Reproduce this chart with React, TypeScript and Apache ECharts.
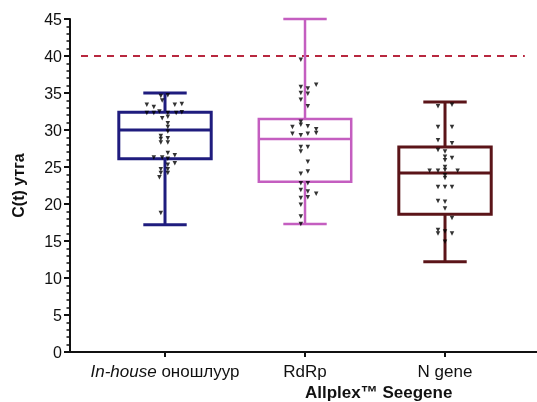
import React, { useEffect, useRef } from "react";
import * as echarts from "echarts";

const categories = ["In-house оношлуур", "RdRp", "N gene"];
// [min, q1, median, q3, max]
const boxStats = [
  [17.2, 26.1, 30.0, 32.4, 35.0],
  [17.3, 23.0, 28.8, 31.5, 45.0],
  [12.2, 18.6, 24.2, 27.7, 33.8],
];
const cutoff = 40;
const yTicks = [0, 5, 10, 15, 20, 25, 30, 35, 40, 45];

const inHouseValues = [34.6, 34.7, 34.0, 33.4, 33.1, 33.4, 33.5, 32.3, 32.3, 32.5, 32.3, 32.3, 32.4, 31.6, 31.8, 30.9, 30.4, 29.8, 29.2, 28.8, 28.9, 28.3, 28.3, 26.9, 26.6, 26.3, 26.3, 26.1, 25.3, 25.5, 24.7, 24.7, 24.2, 24.2, 23.6, 18.8];
const inHouseJitter = [-0.03, 0.02, -0.02, -0.13, -0.08, 0.07, 0.12, -0.13, -0.08, -0.04, 0.02, 0.08, 0.12, -0.02, 0.02, 0.02, 0.02, 0.02, -0.03, -0.03, 0.02, -0.03, 0.02, 0.02, 0.07, -0.08, -0.02, 0.02, 0.02, 0.07, -0.03, 0.02, -0.03, 0.02, -0.04, -0.03];

const rdrpValues = [45.2, 39.5, 35.8, 35.6, 36.1, 35.0, 34.9, 34.1, 33.2, 31.1, 30.7, 30.4, 30.5, 30.1, 29.5, 29.3, 29.5, 29.6, 27.7, 27.7, 27.1, 25.7, 24.1, 24.4, 22.8, 22.8, 21.9, 21.7, 21.4, 20.8, 20.9, 19.9, 18.3, 17.3];
const rdrpJitter = [0.02, -0.03, -0.03, 0.02, 0.08, -0.03, 0.02, -0.03, 0.02, -0.03, -0.03, -0.09, 0.02, 0.08, -0.09, -0.03, 0.02, 0.08, -0.03, 0.02, -0.03, 0.02, -0.03, 0.02, -0.03, 0.02, -0.03, 0.02, 0.08, -0.03, 0.02, -0.03, -0.03, -0.03];

const nGeneValues = [33.2, 33.4, 30.4, 30.4, 28.6, 28.2, 27.3, 27.1, 26.4, 25.9, 26.2, 25.0, 24.5, 24.5, 24.6, 24.5, 23.9, 23.5, 22.3, 22.3, 22.3, 20.4, 20.3, 19.4, 18.1, 16.5, 16.0, 16.3, 16.0, 14.9];
const nGeneJitter = [-0.05, 0.05, -0.05, 0.05, -0.05, 0.05, -0.05, 0.0, 0.0, 0.0, 0.05, 0.0, -0.11, -0.05, 0.0, 0.09, 0.0, 0.0, -0.05, 0.0, 0.05, -0.05, 0.0, 0.0, 0.05, -0.05, -0.05, 0.0, 0.05, 0.0];

const boxColors = ["#1f1c7e", "#c45ec0", "#5b1418"];
const boxLineWidths = [3, 2.5, 3];

const FONT = "Liberation Sans, Arial, sans-serif";

export default function App() {
  const ref = useRef<HTMLDivElement>(null);
  useEffect(() => {
    if (!ref.current) return;
    const chart = echarts.init(ref.current, null, { renderer: "svg" });
    const groups = [
      { values: inHouseValues, jitter: inHouseJitter },
      { values: rdrpValues, jitter: rdrpJitter },
      { values: nGeneValues, jitter: nGeneJitter },
    ];
    const scatterData: number[][] = [];
    groups.forEach((g, gi) => {
      g.values.forEach((v, i) => scatterData.push([gi + 1 + (g.jitter[i] || 0), v]));
    });
    const boxData = boxStats.map((s, i) => [i + 1, ...s]);
    const boxWidth = 0.66;
    const capWidth = 0.31;

    chart.setOption({
      animation: false,
      grid: { left: 70, right: 0, top: 19, bottom: 50 },
      xAxis: {
        type: "value",
        min: 0.3214,
        max: 3.657,
        splitLine: { show: false },
        axisLine: { show: true, onZero: false, lineStyle: { color: "#111", width: 2 } },
        axisTick: { show: true, customValues: [1, 2, 3], length: 5, lineStyle: { color: "#111", width: 2 } },
        axisLabel: {
          customValues: [1, 2, 3],
          margin: 11,
          color: "#111",
          fontSize: 17,
          fontFamily: FONT,
          formatter: (v: number) => {
            const idx = Math.round(v) - 1;
            if (idx === 0) return "{i|In-house} {n|оношлуур}";
            return "{n|" + (categories[idx] || "") + "}";
          },
          rich: {
            i: { fontStyle: "italic", fontSize: 17, color: "#111", fontFamily: FONT },
            n: { fontSize: 17, color: "#111", fontFamily: FONT },
          },
        },
      },
      yAxis: {
        type: "value",
        min: 0,
        max: 45,
        interval: 5,
        name: "C(t) утга",
        nameLocation: "middle",
        nameGap: 44,
        nameTextStyle: { fontWeight: "bold", fontSize: 16, color: "#111", fontFamily: FONT },
        splitLine: { show: false },
        axisLine: { show: true, lineStyle: { color: "#111", width: 2 } },
        axisTick: { show: true, length: 6, lineStyle: { color: "#111", width: 2 } },
        minorTick: { show: true, splitNumber: 5, length: 3.5, lineStyle: { color: "#111", width: 1.5 } },
        axisLabel: {
          margin: 8,
          color: "#111",
          fontSize: 16,
          fontFamily: FONT,
          formatter: (v: number) => (yTicks.includes(v) ? String(v) : ""),
        },
      },
      graphic: [
        {
          type: "text",
          left: 305,
          top: 384,
          style: {
            text: "Allplex™ Seegene",
            fontSize: 17,
            fontWeight: "bold",
            fill: "#111",
            fontFamily: FONT,
          },
        },
      ],
      series: [
        {
          type: "line",
          data: [[0.4, cutoff], [3.57, cutoff]],
          symbol: "none",
          lineStyle: { color: "#b8283f", width: 2, type: [7, 6] },
          z: 1,
        },
        {
          type: "custom",
          data: boxData,
          encode: { x: 0, y: [1, 2, 3, 4, 5] },
          z: 2,
          renderItem: (params: any, api: any) => {
            const x = api.value(0);
            const mn = api.coord([x, api.value(1)]);
            const q1 = api.coord([x, api.value(2)]);
            const md = api.coord([x, api.value(3)]);
            const q3 = api.coord([x, api.value(4)]);
            const mx = api.coord([x, api.value(5)]);
            const hb = api.size([boxWidth, 0])[0] / 2;
            const hc = api.size([capWidth, 0])[0] / 2;
            const cx = md[0];
            const color = boxColors[params.dataIndex];
            const lw = boxLineWidths[params.dataIndex];
            const ls = { stroke: color, lineWidth: lw, fill: "none" };
            return {
              type: "group",
              children: [
                { type: "line", shape: { x1: cx, y1: q3[1], x2: cx, y2: mx[1] }, style: ls },
                { type: "line", shape: { x1: cx, y1: q1[1], x2: cx, y2: mn[1] }, style: ls },
                { type: "line", shape: { x1: cx - hc, y1: mx[1], x2: cx + hc, y2: mx[1] }, style: ls },
                { type: "line", shape: { x1: cx - hc, y1: mn[1], x2: cx + hc, y2: mn[1] }, style: ls },
                { type: "rect", shape: { x: cx - hb, y: q3[1], width: hb * 2, height: q1[1] - q3[1] }, style: ls },
                { type: "line", shape: { x1: cx - hb, y1: md[1], x2: cx + hb, y2: md[1] }, style: ls },
              ],
            };
          },
        },
        {
          type: "scatter",
          data: scatterData,
          symbol: "triangle",
          symbolRotate: 180,
          symbolSize: 4.5,
          itemStyle: { color: "#000" },
          z: 3,
        },
      ],
    });
    return () => chart.dispose();
  }, []);
  return <div ref={ref} style={{ position: "fixed", left: 0, top: 0, width: 537, height: 402 }} />;
}
